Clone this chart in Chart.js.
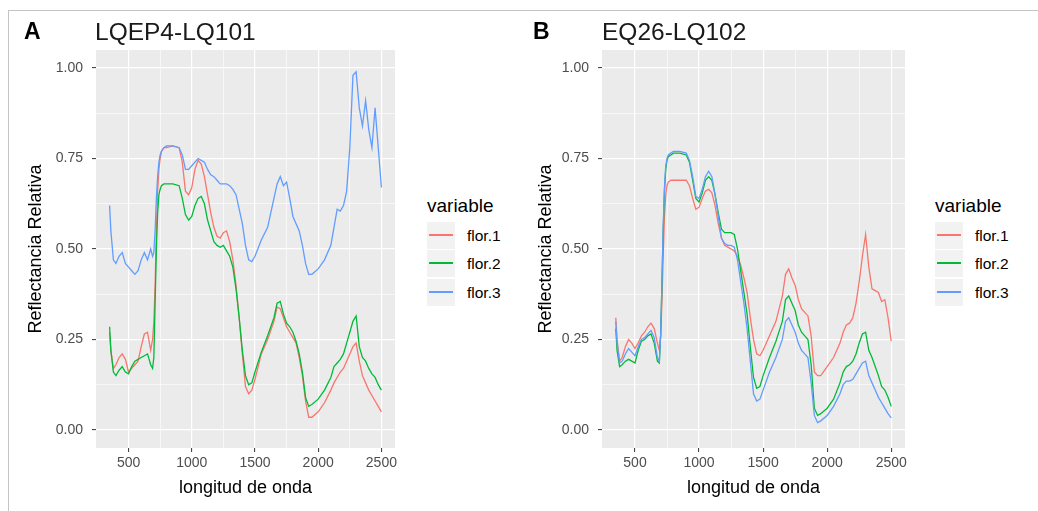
<!DOCTYPE html>
<html>
<head>
<meta charset="utf-8">
<script src="https://cdn.jsdelivr.net/npm/chart.js@4.4.1/dist/chart.umd.min.js"></script>
<style>
  body { margin: 0; background: #fff; font-family: "Liberation Sans", Arial, sans-serif; }
  #page { position: relative; width: 1038px; height: 511px; overflow: hidden; }
  .frame { position: absolute; left: 8px; top: 10px; width: 1100px; height: 600px; border: 1px solid #c4c4c4; }
  .box { position: absolute; top: 0; height: 511px; }
  .tag { position: absolute; font-size: 23px; font-weight: bold; line-height: 1; color: #000; }
  .title { position: absolute; font-size: 24.5px; line-height: 1; color: #1a1a1a; }
  .leg-title { position: absolute; font-size: 19px; line-height: 1; color: #000; }
  .key { position: absolute; width: 28px; height: 27px; background: #f2f2f2; }
  .key-line { position: absolute; left: 2px; width: 24px; top: 12px; height: 0; border-top-width: 2px; border-top-style: solid; }
  .key-label { position: absolute; font-size: 15.5px; line-height: 1; color: #000; }
</style>
</head>
<body>
<div id="page">
  <div class="frame"></div>
  <div class="box" style="left:0;width:420px"><canvas id="chartA"></canvas></div>
  <div class="box" style="left:520px;width:400px"><canvas id="chartB"></canvas></div>
  <div id="labels"></div>
</div>
<script>
// wavelength grid (nm), shared by both panels
const wavelength = [
  350, 360, 380, 400, 425, 450, 475, 500, 525, 550, 575, 600,
  625, 650, 675, 690, 700, 710, 720, 730, 740, 750, 760, 780,
  800, 850, 900, 925, 950, 975, 1000, 1025, 1050, 1075, 1100, 1125,
  1150, 1175, 1200, 1225, 1250, 1275, 1300, 1325, 1350, 1375, 1400, 1425,
  1450, 1475, 1500, 1550, 1600, 1650, 1675, 1700, 1725, 1750, 1775, 1800,
  1825, 1850, 1875, 1900, 1925, 1950, 2000, 2050, 2100, 2125, 2150, 2175,
  2200, 2225, 2250, 2275, 2300, 2325, 2350, 2375, 2400, 2425, 2450, 2475, 2500
];

const seriesNames = ['flor.1', 'flor.2', 'flor.3'];
const seriesColors = ['#F8766D', '#00BA38', '#619CFF'];

const xMajorTicks = [500, 1000, 1500, 2000, 2500];
const xMinorTicks = [750, 1250, 1750, 2250];
const yMajorTicks = [0, 0.25, 0.5, 0.75, 1];
const yMinorTicks = [0.125, 0.375, 0.625, 0.875];

// Panel A: LQEP4-LQ101
const a_flor1 = [
  0.27, 0.22, 0.17, 0.18, 0.20, 0.21, 0.195, 0.16, 0.17, 0.18, 0.19, 0.23,
  0.265, 0.27, 0.22, 0.25, 0.30, 0.40, 0.55, 0.66, 0.72, 0.75, 0.77, 0.78,
  0.78, 0.785, 0.78, 0.74, 0.66, 0.65, 0.67, 0.72, 0.745, 0.735, 0.70, 0.65,
  0.60, 0.56, 0.535, 0.53, 0.545, 0.55, 0.52, 0.47, 0.40, 0.31, 0.21, 0.12,
  0.10, 0.11, 0.14, 0.21, 0.25, 0.30, 0.34, 0.335, 0.31, 0.285, 0.27, 0.255,
  0.24, 0.20, 0.15, 0.08, 0.035, 0.035, 0.05, 0.075, 0.11, 0.13, 0.145, 0.16,
  0.17, 0.19, 0.21, 0.23, 0.24, 0.19, 0.15, 0.13, 0.11, 0.095, 0.08, 0.065, 0.05
];
const a_flor2 = [
  0.285, 0.22, 0.16, 0.15, 0.165, 0.175, 0.16, 0.155, 0.175, 0.19, 0.195, 0.20,
  0.205, 0.21, 0.18, 0.17, 0.20, 0.35, 0.50, 0.60, 0.65, 0.665, 0.675, 0.68,
  0.68, 0.68, 0.675, 0.64, 0.595, 0.58, 0.59, 0.62, 0.64, 0.645, 0.625, 0.58,
  0.55, 0.52, 0.51, 0.505, 0.51, 0.495, 0.48, 0.45, 0.39, 0.31, 0.22, 0.15,
  0.125, 0.13, 0.16, 0.215, 0.26, 0.31, 0.35, 0.355, 0.32, 0.295, 0.285, 0.27,
  0.245, 0.21, 0.16, 0.09, 0.065, 0.07, 0.085, 0.11, 0.145, 0.175, 0.185, 0.195,
  0.21, 0.24, 0.27, 0.30, 0.315, 0.23, 0.20, 0.19, 0.17, 0.155, 0.145, 0.125, 0.11
];
const a_flor3 = [
  0.62, 0.55, 0.47, 0.46, 0.48, 0.49, 0.46, 0.45, 0.44, 0.43, 0.44, 0.47,
  0.49, 0.47, 0.50, 0.48, 0.49, 0.55, 0.64, 0.70, 0.74, 0.76, 0.77, 0.78,
  0.785, 0.785, 0.78, 0.76, 0.72, 0.72, 0.73, 0.74, 0.75, 0.745, 0.74, 0.72,
  0.705, 0.70, 0.69, 0.68, 0.68, 0.68, 0.675, 0.665, 0.65, 0.61, 0.57, 0.51,
  0.47, 0.465, 0.48, 0.525, 0.56, 0.64, 0.68, 0.70, 0.675, 0.685, 0.64, 0.59,
  0.57, 0.55, 0.51, 0.46, 0.43, 0.43, 0.445, 0.47, 0.51, 0.56, 0.61, 0.605,
  0.62, 0.66, 0.78, 0.98, 0.99, 0.89, 0.84, 0.91, 0.83, 0.78, 0.89, 0.78, 0.67
];

// Panel B: EQ26-LQ102
const b_flor1 = [
  0.31, 0.25, 0.19, 0.20, 0.23, 0.25, 0.24, 0.225, 0.24, 0.26, 0.27, 0.285,
  0.295, 0.28, 0.24, 0.22, 0.26, 0.35, 0.48, 0.59, 0.65, 0.675, 0.685, 0.69,
  0.69, 0.69, 0.69, 0.675, 0.64, 0.61, 0.615, 0.64, 0.66, 0.665, 0.655, 0.62,
  0.57, 0.53, 0.51, 0.505, 0.50, 0.495, 0.48, 0.455, 0.42, 0.38, 0.31, 0.25,
  0.21, 0.205, 0.22, 0.26, 0.30, 0.37, 0.43, 0.445, 0.42, 0.40, 0.36, 0.335,
  0.325, 0.315, 0.26, 0.16, 0.15, 0.15, 0.175, 0.20, 0.24, 0.27, 0.29, 0.295,
  0.31, 0.35, 0.41, 0.48, 0.54, 0.45, 0.39, 0.385, 0.38, 0.355, 0.36, 0.31, 0.245
];
const b_flor2 = [
  0.28, 0.22, 0.175, 0.18, 0.19, 0.195, 0.19, 0.185, 0.22, 0.245, 0.25, 0.26,
  0.265, 0.24, 0.19, 0.185, 0.26, 0.40, 0.55, 0.66, 0.72, 0.745, 0.755, 0.76,
  0.765, 0.765, 0.76, 0.74, 0.69, 0.64, 0.63, 0.655, 0.69, 0.70, 0.69, 0.65,
  0.60, 0.555, 0.545, 0.545, 0.545, 0.54, 0.50, 0.44, 0.38, 0.32, 0.23, 0.145,
  0.115, 0.12, 0.15, 0.20, 0.245, 0.30, 0.36, 0.37, 0.35, 0.33, 0.29, 0.27,
  0.26, 0.25, 0.18, 0.06, 0.04, 0.045, 0.06, 0.085, 0.13, 0.16, 0.175, 0.18,
  0.19, 0.21, 0.24, 0.265, 0.27, 0.22, 0.20, 0.175, 0.15, 0.12, 0.11, 0.09, 0.065
];
const b_flor3 = [
  0.30, 0.24, 0.185, 0.19, 0.21, 0.225, 0.215, 0.205, 0.23, 0.25, 0.255, 0.265,
  0.275, 0.255, 0.20, 0.19, 0.26, 0.40, 0.56, 0.67, 0.73, 0.75, 0.76, 0.765,
  0.77, 0.77, 0.765, 0.745, 0.70, 0.645, 0.64, 0.665, 0.70, 0.715, 0.70, 0.65,
  0.59, 0.53, 0.515, 0.51, 0.51, 0.505, 0.47, 0.41, 0.35, 0.28, 0.19, 0.10,
  0.08, 0.085, 0.11, 0.16, 0.20, 0.25, 0.30, 0.31, 0.29, 0.27, 0.24, 0.22,
  0.21, 0.20, 0.13, 0.04, 0.02, 0.025, 0.04, 0.065, 0.10, 0.125, 0.135, 0.135,
  0.14, 0.155, 0.17, 0.185, 0.19, 0.15, 0.13, 0.11, 0.09, 0.075, 0.06, 0.045, 0.033
];

const FONT = '"Liberation Sans", Arial, sans-serif';

//#####################
// grey panel background (ggplot look)
//#####################
const panelBg = {
  id: 'panelBg',
  beforeDraw: (chart) => {
    const {ctx, chartArea: a} = chart;
    ctx.save();
    ctx.fillStyle = '#EBEBEB';
    ctx.fillRect(a.left, a.top, a.right - a.left, a.bottom - a.top);
    ctx.restore();
  }
};

const isMajorX = (v) => xMajorTicks.includes(v);
const isMajorY = (v) => yMajorTicks.some(t => Math.abs(t - v) < 1e-9);

//#####################
// build one panel
//#####################
const makePanel = (canvasId, values, lay) => {
  const datasets = values.map((vals, i) => ({
    label: seriesNames[i],
    data: wavelength.map((w, j) => ({x: w, y: vals[j]})),
    borderColor: seriesColors[i],
    borderWidth: 1.3,
    pointRadius: 0,
    tension: 0,
    order: 2 - i
  }));

  return new Chart(document.getElementById(canvasId), {
    type: 'line',
    data: {datasets: datasets},
    plugins: [panelBg],
    options: {
      responsive: true,
      maintainAspectRatio: false,
      animation: false,
      events: [],
      layout: {padding: {left: lay.padLeft, top: 50, right: lay.padRight, bottom: 12}},
      plugins: {legend: {display: false}, tooltip: {enabled: false}},
      scales: {
        x: {
          type: 'linear',
          min: 242.5,
          max: 2607.5,
          afterBuildTicks: (s) => { s.ticks = [...xMajorTicks, ...xMinorTicks].sort((p, q) => p - q).map(v => ({value: v})); },
          afterFit: (s) => { s.height = 511 - 12 - 448; },
          ticks: {
            autoSkip: false, maxRotation: 0, padding: 3, color: '#4D4D4D',
            font: {family: FONT, size: 14},
            callback: (v) => isMajorX(v) ? String(v) : ''
          },
          grid: {
            color: '#FFFFFF',
            lineWidth: (c) => isMajorX(c.tick.value) ? 1.2 : 0.6,
            tickLength: 4,
            tickColor: (c) => isMajorX(c.tick.value) ? '#333333' : 'rgba(0,0,0,0)',
            tickWidth: 1
          },
          border: {display: false},
          title: {display: true, text: 'longitud de onda', color: '#000', font: {family: FONT, size: 18}, padding: 0}
        },
        y: {
          type: 'linear',
          min: -0.05,
          max: 1.05,
          afterBuildTicks: (s) => { s.ticks = [...yMajorTicks, ...yMinorTicks].sort((p, q) => p - q).map(v => ({value: v})); },
          afterFit: (s) => { s.width = lay.chartLeft - lay.padLeft; },
          ticks: {
            autoSkip: false, padding: 9, color: '#4D4D4D',
            font: {family: FONT, size: 14},
            callback: (v) => isMajorY(v) ? v.toFixed(2) : ''
          },
          grid: {
            color: '#FFFFFF',
            lineWidth: (c) => isMajorY(c.tick.value) ? 1.2 : 0.6,
            tickLength: 4,
            tickColor: (c) => isMajorY(c.tick.value) ? '#333333' : 'rgba(0,0,0,0)',
            tickWidth: 1
          },
          border: {display: false},
          title: {display: true, text: 'Reflectancia Relativa', color: '#000', font: {family: FONT, size: 18}, padding: 0}
        }
      }
    }
  });
};

makePanel('chartA', [a_flor1, a_flor2, a_flor3], {padLeft: 25, padRight: 25, chartLeft: 96});
makePanel('chartB', [b_flor1, b_flor2, b_flor3], {padLeft: 15, padRight: 15, chartLeft: 82});

//#####################
// titles and legends
//#####################
const labels = document.getElementById('labels');
const panels = [
  {tag: 'A', tagX: 24, title: 'LQEP4-LQ101', titleX: 95, legX: 427},
  {tag: 'B', tagX: 533, title: 'EQ26-LQ102', titleX: 602, legX: 935}
];
const rowY = [235, 263, 292];
panels.forEach(p => {
  const add = (cls, text, left, top) => {
    const d = document.createElement('div');
    d.className = cls;
    d.textContent = text;
    d.style.left = left + 'px';
    d.style.top = top + 'px';
    labels.append(d);
    return d;
  };
  add('tag', p.tag, p.tagX, 20);
  add('title', p.title, p.titleX, 20);
  add('leg-title', 'variable', p.legX, 196);
  seriesNames.forEach((name, i) => {
    const key = add('key', '', p.legX, rowY[i] - 13);
    const line = document.createElement('div');
    line.className = 'key-line';
    line.style.borderTopColor = seriesColors[i];
    key.append(line);
    add('key-label', name, p.legX + 40, rowY[i] - 7);
  });
});
</script>
</body>
</html>
